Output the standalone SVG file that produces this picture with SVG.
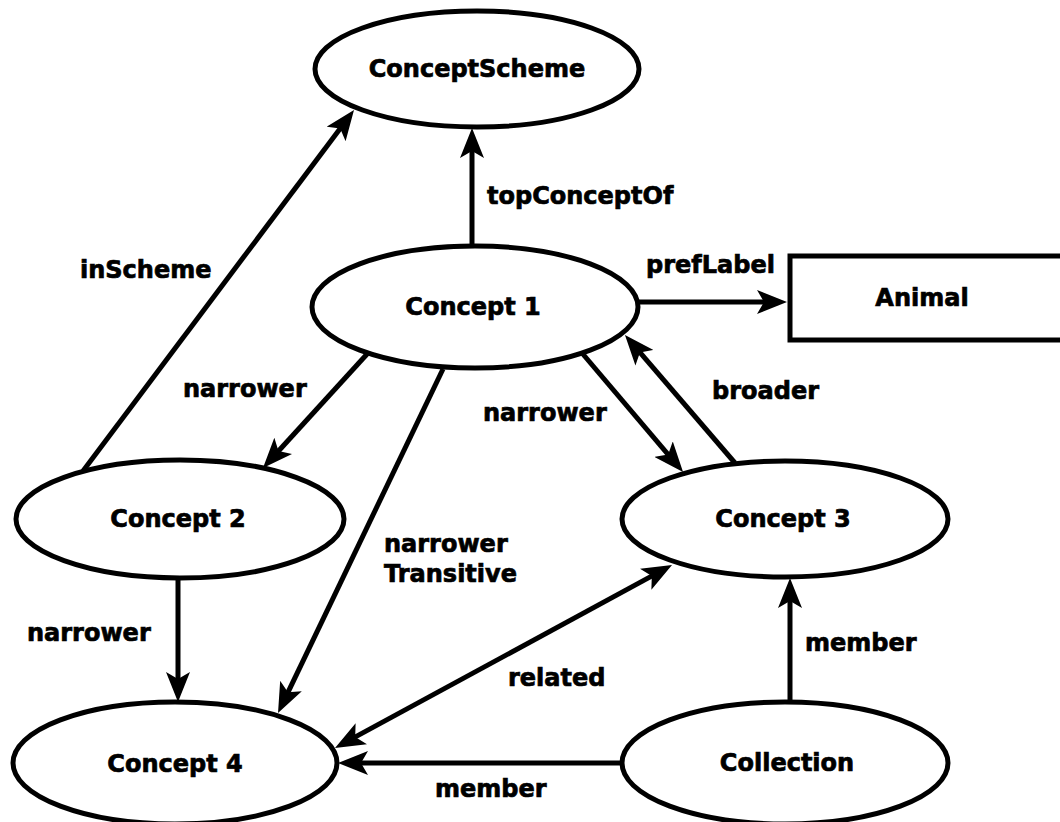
<svg xmlns="http://www.w3.org/2000/svg" width="1060" height="822" viewBox="0 0 1060 822">
<defs>
<marker id="arr" viewBox="0 0 30 24" refX="12" refY="12" markerWidth="30" markerHeight="24" markerUnits="userSpaceOnUse" orient="auto-start-reverse">
<path d="M0,0 L30,12 L0,24 L7,12 Z" fill="#000"/>
</marker>
</defs>
<style>
.n{fill:#fff;stroke:#000;stroke-width:5}
.t{font-family:"DejaVu Sans",sans-serif;font-weight:bold;font-size:24px;fill:#000;stroke:#000;stroke-width:0.7}
.c{text-anchor:middle}
.e{fill:none;stroke:#000;stroke-width:5}
</style>
<rect width="1060" height="822" fill="#fff"/>
<g id="connectors">
<line class="e" x1="83" y1="471" x2="343.2" y2="124.4" marker-end="url(#arr)"/>
<line class="e" x1="472" y1="246" x2="472" y2="146" marker-end="url(#arr)"/>
<line class="e" x1="638" y1="302" x2="769" y2="302" marker-end="url(#arr)"/>
<line class="e" x1="368" y1="353" x2="275.1" y2="454.7" marker-end="url(#arr)"/>
<line class="e" x1="443" y1="369" x2="285.8" y2="696.8" marker-end="url(#arr)"/>
<line class="e" x1="582" y1="353" x2="671.4" y2="458.3" marker-end="url(#arr)"/>
<line class="e" x1="735" y1="463" x2="636.7" y2="348.7" marker-end="url(#arr)"/>
<line class="e" x1="178" y1="578" x2="178" y2="684" marker-end="url(#arr)"/>
<line class="e" x1="350.8" y1="739.4" x2="656.2" y2="573.6" marker-start="url(#arr)" marker-end="url(#arr)"/>
<line class="e" x1="790" y1="702" x2="790" y2="596" marker-end="url(#arr)"/>
<line class="e" x1="622" y1="763" x2="356" y2="763" marker-end="url(#arr)"/>
<text class="t" x="487" y="204">topConceptOf</text>
<text class="t" x="80" y="278">inScheme</text>
<text class="t" x="646" y="273">prefLabel</text>
<text class="t" x="183" y="397">narrower</text>
<text class="t" x="483" y="421">narrower</text>
<text class="t" x="712" y="399">broader</text>
<text class="t" x="384" y="552">narrower</text>
<text class="t" x="384" y="582">Transitive</text>
<text class="t" x="27" y="641">narrower</text>
<text class="t" x="805" y="651">member</text>
<text class="t" x="508" y="686">related</text>
<text class="t" x="435" y="797">member</text>
</g>
<g id="conceptScheme">
<ellipse class="n" cx="477" cy="69" rx="162" ry="58"/>
<text class="t c" x="477" y="77">ConceptScheme</text>
</g>
<g id="concept1">
<ellipse class="n" cx="475" cy="307" rx="163" ry="61"/>
<text class="t c" x="473" y="315">Concept 1</text>
</g>
<g id="animal">
<rect class="n" x="790" y="256" width="300" height="84"/>
<text class="t c" x="922" y="306">Animal</text>
</g>
<g id="concept2">
<ellipse class="n" cx="180" cy="519" rx="164" ry="59"/>
<text class="t c" x="178" y="527">Concept 2</text>
</g>
<g id="concept3">
<ellipse class="n" cx="785" cy="519" rx="163" ry="58"/>
<text class="t c" x="783" y="527">Concept 3</text>
</g>
<g id="concept4">
<ellipse class="n" cx="175" cy="763" rx="162" ry="61"/>
<text class="t c" x="175" y="772">Concept 4</text>
</g>
<g id="collection">
<ellipse class="n" cx="785" cy="763" rx="163" ry="61"/>
<text class="t c" x="787" y="771">Collection</text>
</g>
</svg>
